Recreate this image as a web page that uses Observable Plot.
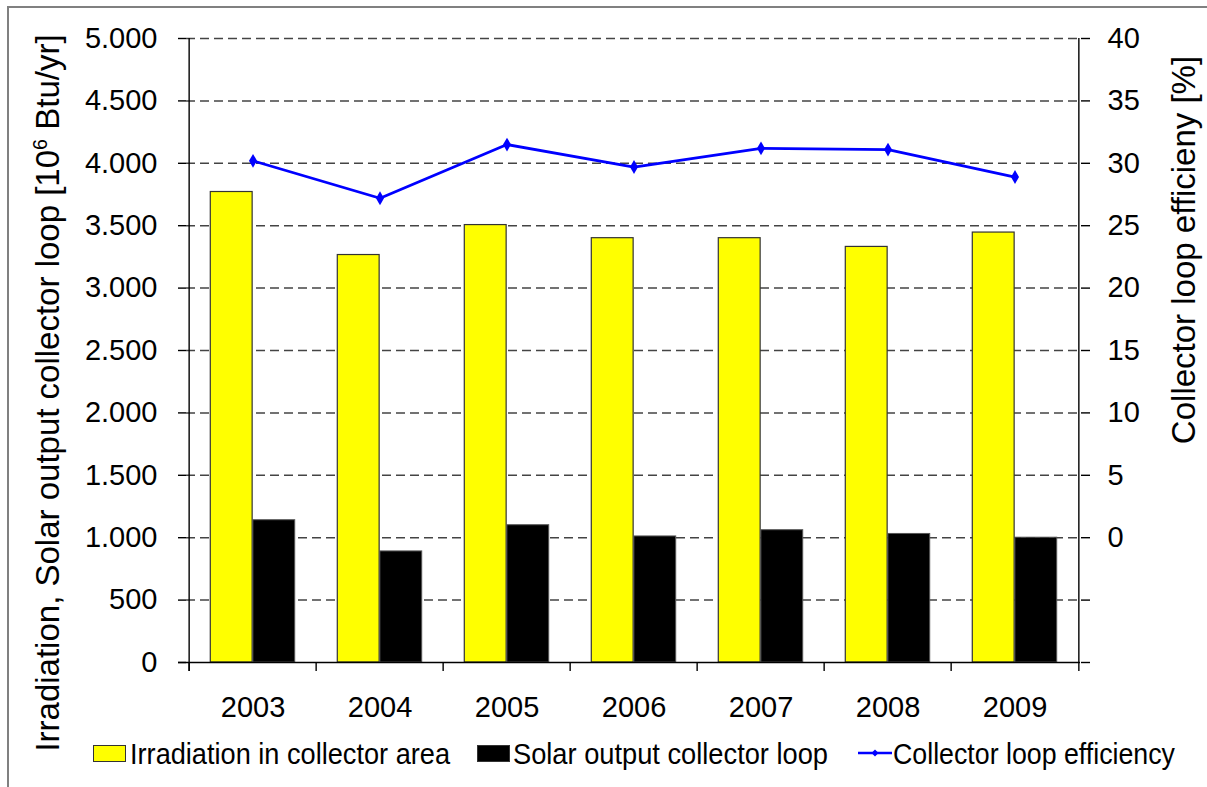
<!DOCTYPE html>
<html><head><meta charset="utf-8">
<script src="https://cdn.jsdelivr.net/npm/d3@7"></script>
<script src="https://cdn.jsdelivr.net/npm/@observablehq/plot@0.6"></script>
<style>
body{margin:0;background:#fff;font-family:"Liberation Sans",Arial,sans-serif;color:#000;}
#frame{position:absolute;left:7px;top:6px;width:1300px;height:900px;border-top:2px solid #808080;border-left:2px solid #808080;}
#chart{position:absolute;left:0;top:0;}
.ytitle{position:absolute;white-space:nowrap;font-size:33px;transform:translate(-50%,-50%) rotate(-90deg);line-height:1;}
.ytitle sup{font-size:0.6em;vertical-align:0.6em;line-height:0;}
#legend{position:absolute;top:737px;left:0;width:1207px;height:38px;font-size:30px;white-space:nowrap;}
.sw{position:absolute;top:8px;width:31px;height:15px;border:1px solid #333;}
.lab{position:absolute;top:2px;line-height:1;transform-origin:0 50%;}
</style></head>
<body>
<div id="frame"></div>
<div id="chart"></div>
<div class="ytitle" id="lt" style="left:47px;top:393px;">Irradiation, Solar output collector loop [10<sup>6</sup> Btu/yr]</div>
<div class="ytitle" id="rt" style="left:1183px;top:250px;">Collector loop efficieny [%]</div>
<div id="legend">
  <span class="sw" style="left:93px;background:#ffff00"></span>
  <span class="lab" data-w="320" style="left:130px;">Irradiation in collector area</span>
  <span class="sw" style="left:477px;background:#000"></span>
  <span class="lab" data-w="315" style="left:513px;">Solar output collector loop</span>
  <svg style="position:absolute;left:858px;top:7px" width="34" height="18"><line x1="0" y1="9" x2="34" y2="9" stroke="#0000ff" stroke-width="2.5"/><path d="M17 5.5 L20.5 9 L17 12.5 L13.5 9Z" fill="#0000ff"/></svg>
  <span class="lab" data-w="282" style="left:893px;">Collector loop efficiency</span>
</div>
<script>
const years = ["2003","2004","2005","2006","2007","2008","2009"];
const irradiation = [3770,3265,3505,3400,3400,3330,3445];
const solarOutput = [1140,890,1100,1010,1060,1030,1000];
const efficiency = [30.2,27.2,31.5,29.7,31.2,31.1,28.9];
const leftTicks = [0,500,1000,1500,2000,2500,3000,3500,4000,4500,5000];
const rightTicks = [0,5,10,15,20,25,30,35,40];

// right axis: efficiency 0..40 % shares the left scale, 0 % at 1.000 and 40 % at 5.000
const effToLeft = e => 1000 + e * 100;

const W = 1207, H = 735;
const mL = 186, mR = 127, mT = 38, mB = H - 662;
const plotW = W - mL - mR, plotH = H - mT - mB;
const bw = plotW / years.length;

const de = d3.formatLocale({decimal: ",", thousands: ".", grouping: [3], currency: ["", ""]});
const fmt = de.format(",");

const irrData = years.map((y, i) => ({year: y, v: irradiation[i]}));
const solData = years.map((y, i) => ({year: y, v: solarOutput[i]}));
const effData = years.map((y, i) => ({year: y, e: efficiency[i]}));
const rightMap = new Map(rightTicks.map(t => [effToLeft(t), String(t)]));

const chart = Plot.plot({
  width: W, height: H,
  marginLeft: mL, marginRight: mR, marginTop: mT, marginBottom: mB,
  style: {fontFamily: "'Liberation Sans', Arial, sans-serif", color: "#000", background: "transparent"},
  x: {type: "band", domain: years, padding: 0},
  y: {domain: [0, 5000]},
  marks: [
    Plot.ruleY(leftTicks.filter(t => t > 0), {stroke: "#444", strokeWidth: 1.5, strokeDasharray: "9,5"}),
    Plot.barY(irrData, {x: "year", y: "v", fill: "#ffff00", stroke: "#333", strokeWidth: 1.2, insetLeft: bw / 6, insetRight: bw / 2}),
    Plot.barY(solData, {x: "year", y: "v", fill: "#000", stroke: "#555", strokeWidth: 1, insetLeft: bw / 2, insetRight: bw / 6}),
    Plot.ruleY([0], {stroke: "#000", strokeWidth: 1.4, insetLeft: -8}),
    // category boundary ticks below the x axis
    Plot.ruleX(years, {x: d => d, dx: -bw / 2, stroke: "#000", strokeWidth: 1.4, insetTop: plotH, insetBottom: -9}),
    // left and right axis lines
    Plot.ruleX([years[0]], {x: d => d, dx: -bw / 2, stroke: "#000", strokeWidth: 1.4, insetBottom: -9}),
    Plot.ruleX([years[years.length - 1]], {x: d => d, dx: bw / 2, stroke: "#000", strokeWidth: 1.4, insetBottom: -9}),
    Plot.line(effData, {x: "year", y: d => effToLeft(d.e), stroke: "#0000ff", strokeWidth: 2.8}),
    Plot.dot(effData, {x: "year", y: d => effToLeft(d.e), symbol: "diamond", r: 4.2, fill: "#0000ff", stroke: "none"}),
    Plot.axisY({anchor: "left", ticks: leftTicks, tickFormat: fmt, tickSize: 8, tickPadding: 21, fontSize: 29, label: null, strokeWidth: 1.4}),
    Plot.axisY({anchor: "right", ticks: leftTicks, tickFormat: v => rightMap.get(v) ?? "", tickSize: 9, tickPadding: 18, fontSize: 29, label: null, strokeWidth: 1.4}),
    Plot.axisX({tickSize: 0, tickPadding: 34, fontSize: 29, label: null})
  ]
});
document.getElementById("chart").append(chart);

// condensed legend labels: fit each label to its width in the reference
document.querySelectorAll("#legend .lab").forEach(el => {
  const w = el.getBoundingClientRect().width;
  el.style.transform = `scaleX(${(+el.dataset.w / w).toFixed(4)})`;
});
</script>
</body></html>
